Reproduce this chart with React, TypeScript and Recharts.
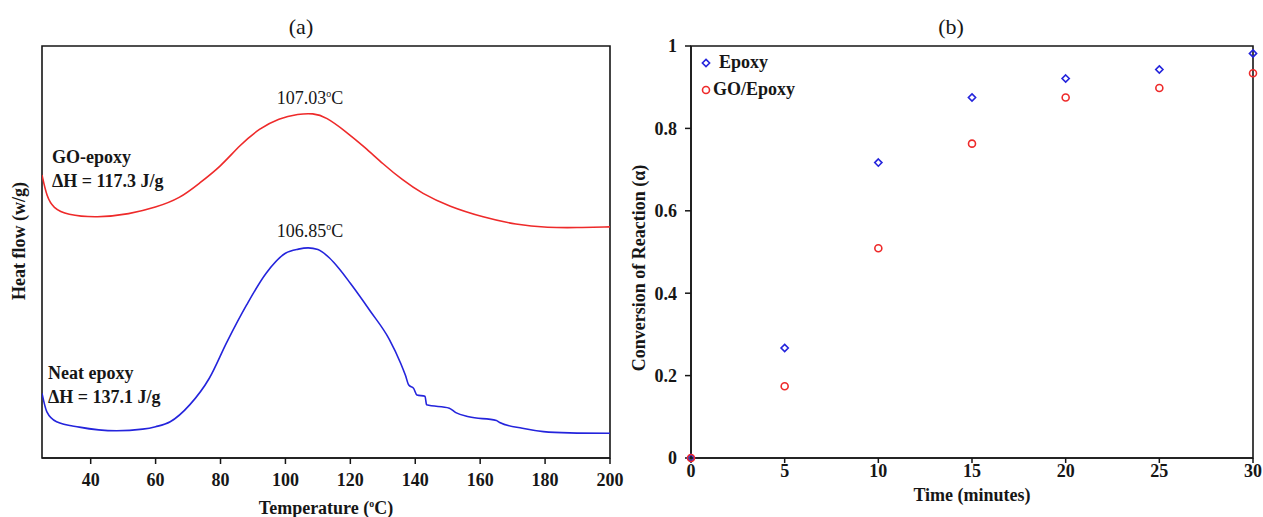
import React from 'react';
import {
  LineChart,
  Line,
  XAxis,
  YAxis,
  ReferenceArea,
  ScatterChart,
  Scatter,
  Legend
} from 'recharts';

const FONT = '"Liberation Serif", "Times New Roman", serif';
const RED = '#ee2a2a';
const BLUE = '#2424dc';
const INK = '#161616';

// (a) DSC curves: temperature (°C) / heat flow (arbitrary units, no scale on the plot)
const goTemp = [25, 26.5, 28.5, 32.5, 42, 52, 60, 67.5, 73.5, 80, 86, 92, 98, 104, 108.5, 112.5, 118.5, 124.5, 130, 136, 142, 150.5, 161, 171, 181, 189.5, 200];
const goHeat = [6.87, 6.33, 6.07, 5.9, 5.83, 5.92, 6.08, 6.3, 6.67, 7.07, 7.6, 8.0, 8.25, 8.35, 8.37, 8.28, 7.93, 7.54, 7.14, 6.75, 6.42, 6.1, 5.84, 5.66, 5.59, 5.59, 5.61];

const neatTemp = [25, 26.5, 29.5, 36.5, 48, 56, 60, 64.5, 70.5, 76.5, 82, 88, 94, 100, 104, 107, 110, 113.5, 116.5, 120, 126, 132, 135.5, 137, 138, 139.5, 140.5, 143, 143.5, 150.5, 152.5, 156.5, 165, 166, 173, 179.5, 187.5, 200];
const neatHeat = [1.57, 1.12, 0.88, 0.75, 0.66, 0.7, 0.76, 0.88, 1.29, 1.93, 2.82, 3.71, 4.48, 4.97, 5.07, 5.1, 5.06, 4.86, 4.6, 4.24, 3.58, 2.88, 2.3, 2.0, 1.77, 1.69, 1.53, 1.5, 1.29, 1.21, 1.1, 1.0, 0.91, 0.86, 0.72, 0.64, 0.61, 0.6];

const tempTicks = [40, 60, 80, 100, 120, 140, 160, 180, 200];

// (b) degree of cure vs time
const timeMin = [0, 5, 10, 15, 20, 25, 30];
const epoxyConv = [0, 0.267, 0.717, 0.875, 0.921, 0.943, 0.982];
const goEpoxyConv = [0, 0.174, 0.509, 0.763, 0.875, 0.898, 0.934];
const timeTicks = [0, 5, 10, 15, 20, 25, 30];
const convTicks = [0, 0.2, 0.4, 0.6, 0.8, 1];

const goData = goTemp.map((t, i) => ({ t, h: goHeat[i] }));
const neatData = neatTemp.map((t, i) => ({ t, h: neatHeat[i] }));
const epoxyData = timeMin.map((t, i) => ({ t, a: epoxyConv[i] }));
const goEpoxyData = timeMin.map((t, i) => ({ t, a: goEpoxyConv[i] }));

const tickStyle = { fill: INK, fontSize: 18, fontWeight: 700, fontFamily: FONT };

const Diamond = (p: any) => (
  <path
    d={`M${p.cx},${p.cy - 3.6}L${p.cx + 3.6},${p.cy}L${p.cx},${p.cy + 3.6}L${p.cx - 3.6},${p.cy}Z`}
    fill="none"
    stroke={BLUE}
    strokeWidth={1.6}
  />
);

const Ring = (p: any) => (
  <circle cx={p.cx} cy={p.cy} r={3.5} fill="none" stroke={RED} strokeWidth={1.6} />
);

const legendItems = [
  { name: 'Epoxy', color: BLUE, kind: 'diamond', gap: 12 },
  { name: 'GO/Epoxy', color: RED, kind: 'ring', gap: 6 }
];

const renderLegend = () => (
  <div style={{ fontFamily: FONT, fontSize: 18, fontWeight: 700, color: INK }}>
    {legendItems.map((it) => (
      <div key={it.name} style={{ display: 'flex', alignItems: 'center', height: 27 }}>
        <svg width={10} height={10}>
          {it.kind === 'diamond' ? (
            <path d="M5,1.4L8.6,5L5,8.6L1.4,5Z" fill="none" stroke={it.color} strokeWidth={1.6} />
          ) : (
            <circle cx={5} cy={5} r={3.5} fill="none" stroke={it.color} strokeWidth={1.6} />
          )}
        </svg>
        <span style={{ marginLeft: it.gap - 4 }}>{it.name}</span>
      </div>
    ))}
  </div>
);

// plain text placed on the page, centred on (x, y) unless anchor is 'start'
const Txt = ({ x, y, size = 18, bold = true, rotate = false, anchor = 'middle', children }: any) => (
  <div
    style={{
      position: 'absolute',
      left: x,
      top: y,
      transform: `translate(${anchor === 'middle' ? '-50%' : '0'}, -50%)${rotate ? ' rotate(-90deg)' : ''}`,
      fontFamily: FONT,
      fontSize: size,
      fontWeight: bold ? 700 : 400,
      lineHeight: 1,
      whiteSpace: 'nowrap',
      color: INK
    }}
  >
    {children}
  </div>
);

const Deg = () => <sup style={{ fontSize: '0.55em', verticalAlign: '0.75em' }}>o</sup>;

export default function App() {
  return (
    <div style={{ position: 'absolute', left: 0, top: 0, width: 1263, height: 517, background: '#fff' }}>
      <div style={{ position: 'absolute', left: 0, top: 0 }}>
        <LineChart width={640} height={517} margin={{ top: 46, right: 30, bottom: 19, left: 42 }}>
          <XAxis
            type="number"
            dataKey="t"
            domain={[25, 200]}
            ticks={tempTicks}
            allowDataOverflow
            height={40}
            tick={tickStyle}
            tickSize={6}
            tickMargin={9}
            stroke={INK}
            strokeWidth={1.5}
          />
          <YAxis hide type="number" domain={[0, 10]} />
          <ReferenceArea x1={25} x2={200} y1={0} y2={10} fill="none" stroke={INK} strokeWidth={1.6} ifOverflow="visible" />
          {/* red trace is smooth in the original, blue one keeps its small steps */}
          <Line data={goData} dataKey="h" type="basis" stroke={RED} strokeWidth={1.6} dot={false} isAnimationActive={false} />
          <Line data={neatData} dataKey="h" type="monotone" stroke={BLUE} strokeWidth={1.6} dot={false} isAnimationActive={false} />
        </LineChart>
      </div>

      <div style={{ position: 'absolute', left: 620, top: 0 }}>
        <ScatterChart width={643} height={517} margin={{ top: 46, right: 10, bottom: 19, left: 31 }}>
          <XAxis
            type="number"
            dataKey="t"
            domain={[0, 30]}
            ticks={timeTicks}
            height={40}
            tick={tickStyle}
            tickSize={5}
            tickMargin={1}
            stroke={INK}
            strokeWidth={1.5}
          />
          <YAxis
            type="number"
            dataKey="a"
            domain={[0, 1]}
            ticks={convTicks}
            width={40}
            tick={tickStyle}
            tickSize={6}
            tickMargin={8}
            stroke={INK}
            strokeWidth={1.5}
          />
          <ReferenceArea x1={0} x2={30} y1={0} y2={1} fill="none" stroke={INK} strokeWidth={1.6} ifOverflow="visible" />
          <Scatter name="Epoxy" data={epoxyData} shape={Diamond} fill={BLUE} isAnimationActive={false} />
          <Scatter name="GO/Epoxy" data={goEpoxyData} shape={Ring} fill={RED} isAnimationActive={false} />
          <Legend
            layout="horizontal"
            verticalAlign="middle"
            align="center"
            content={renderLegend}
            wrapperStyle={{ left: 81, top: 49, width: 'auto', height: 'auto' }}
          />
        </ScatterChart>
      </div>

      <Txt x={301} y={27} size={22} bold={false}>(a)</Txt>
      <Txt x={951} y={27} size={22} bold={false}>(b)</Txt>

      <Txt x={19} y={241} rotate>Heat flow (w/g)</Txt>
      <Txt x={326} y={508}>Temperature (<Deg />C)</Txt>

      <Txt x={639} y={268} rotate>Conversion of Reaction (α)</Txt>
      <Txt x={972} y={495}>Time (minutes)</Txt>

      <Txt x={52} y={157} anchor="start">GO-epoxy</Txt>
      <Txt x={52} y={181} anchor="start">ΔH = 117.3 J/g</Txt>
      <Txt x={48} y={373} anchor="start">Neat epoxy</Txt>
      <Txt x={48} y={397} anchor="start">ΔH = 137.1 J/g</Txt>

      <Txt x={310} y={98} bold={false}>107.03<Deg />C</Txt>
      <Txt x={310} y={231} bold={false}>106.85<Deg />C</Txt>
    </div>
  );
}
